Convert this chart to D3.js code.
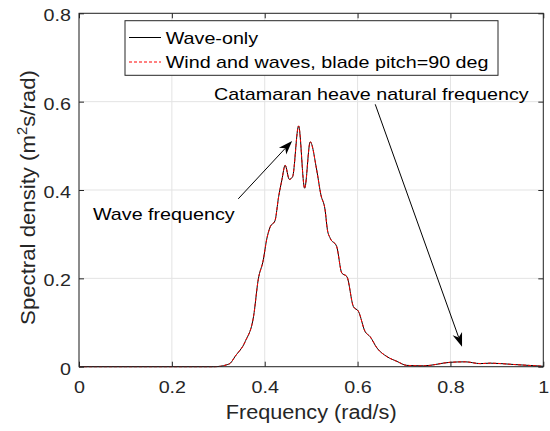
<!DOCTYPE html>
<html>
<head>
<meta charset="utf-8">
<script src="https://cdn.jsdelivr.net/npm/d3@7"></script>
<style>
    body { margin: 0; background: #fff; }
    svg { display: block; font-family: "Liberation Sans", Arial, sans-serif; }
</style>
</head>
<body>
<svg id="chart" width="550" height="431"></svg>
<script>
// Spectrum samples.
const freq = [0, 0.1, 0.2, 0.29, 0.305, 0.317, 0.326, 0.336, 0.358, 0.376,
    0.386, 0.397, 0.404, 0.412, 0.422, 0.430, 0.437, 0.444, 0.453, 0.460,
    0.473, 0.486, 0.498, 0.512, 0.521, 0.530, 0.535, 0.541, 0.555, 0.566,
    0.577, 0.591, 0.602, 0.616, 0.627, 0.642, 0.663, 0.685, 0.706, 0.742,
    0.80, 0.832, 0.864, 0.886, 0.936, 1.0];
const waveOnly = [0, 0, 0, 0, 0.001, 0.004, 0.008, 0.023, 0.057, 0.114,
    0.197, 0.242, 0.287, 0.317, 0.33, 0.385, 0.423, 0.456, 0.424, 0.43,
    0.545, 0.404, 0.509, 0.445, 0.389, 0.355, 0.31, 0.291, 0.272, 0.212,
    0.204, 0.136, 0.125, 0.08, 0.068, 0.042, 0.023, 0.012, 0.003, 0.002,
    0.010, 0.011, 0.007, 0.008, 0.005, 0.001];
const windWaves = [0, 0, 0, 0, 0.001, 0.004, 0.008, 0.023, 0.057, 0.114,
    0.197, 0.242, 0.287, 0.317, 0.33, 0.385, 0.423, 0.456, 0.424, 0.43,
    0.545, 0.404, 0.509, 0.445, 0.389, 0.355, 0.31, 0.291, 0.272, 0.212,
    0.204, 0.136, 0.125, 0.08, 0.068, 0.042, 0.023, 0.012, 0.003, 0.002,
    0.010, 0.011, 0.007, 0.008, 0.005, 0.001];

const xTicks = [0, 0.2, 0.4, 0.6, 0.8, 1];
const xTickLabels = ["0", "0.2", "0.4", "0.6", "0.8", "1"];
const yTicks = [0, 0.2, 0.4, 0.6, 0.8];
const yTickLabels = ["0", "0.2", "0.4", "0.6", "0.8"];
const legendLabels = ["Wave-only", "Wind and waves, blade pitch=90 deg"];

// Text annotations with arrows (data coordinates).
const notes = [
    { label: "Wave frequency", at: [0.030, 0.332], from: [0.343, 0.380], to: [0.459, 0.511] },
    { label: "Catamaran heave natural frequency", at: [0.291, 0.603], from: [0.638, 0.594], to: [0.825, 0.045] },
];

const svg = d3.select("#chart");
const margin = { top: 13.3, right: 6.7, bottom: 64.3, left: 79 };
const W = 550, H = 431;
const axisColor = "#262626";
const stretch = 1.16; // glyphs in the picture run wider than their height

const x = d3.scaleLinear().domain([0, 1]).range([margin.left, W - margin.right]);
const y = d3.scaleLinear().domain([0, 0.8]).range([H - margin.bottom, margin.top]);

// Grid lines.
const grid = svg.append("g").attr("stroke", "#e3e3e3").attr("stroke-width", 1);
grid.selectAll(".gx").data(xTicks).join("line")
    .attr("x1", (d) => x(d)).attr("x2", (d) => x(d))
    .attr("y1", y(0)).attr("y2", y(0.8));
grid.selectAll(".gy").data(yTicks).join("line")
    .attr("y1", (d) => y(d)).attr("y2", (d) => y(d))
    .attr("x1", x(0)).attr("x2", x(1));

// Curves.
const series = [
    { values: waveOnly, color: "#000", dash: null },
    { values: windWaves, color: "#ff0000", dash: "3,2" },
];
const line = d3.line()
    .x((d) => x(d[0]))
    .y((d) => y(d[1]))
    .curve(d3.curveMonotoneX);
series.forEach((s) => {
    svg.append("path")
        .datum(freq.map((f, i) => [f, s.values[i]]))
        .attr("fill", "none")
        .attr("stroke", s.color)
        .attr("stroke-width", 1)
        .attr("stroke-dasharray", s.dash)
        .attr("d", line);
});

// Axes: ticks point inwards on all four sides.
const fmtX = (d, i) => xTickLabels[i];
const fmtY = (d, i) => yTickLabels[i];
const gx = svg.append("g").attr("transform", `translate(0,${y(0)})`)
    .call(d3.axisBottom(x).tickValues(xTicks).tickFormat(fmtX).tickSize(-5).tickSizeOuter(0).tickPadding(14.2));
const gy = svg.append("g").attr("transform", `translate(${x(0)},0)`)
    .call(d3.axisLeft(y).tickValues(yTicks).tickFormat(fmtY).tickSize(-5).tickSizeOuter(0).tickPadding(8 / stretch));
svg.append("g").attr("transform", `translate(0,${y(0.8)})`)
    .call(d3.axisTop(x).tickValues(xTicks).tickFormat("").tickSize(-5).tickSizeOuter(0));
svg.append("g").attr("transform", `translate(${x(1)},0)`)
    .call(d3.axisRight(y).tickValues(yTicks).tickFormat("").tickSize(-5).tickSizeOuter(0));

svg.selectAll(".domain").remove();
svg.selectAll(".tick line").attr("stroke", axisColor);
svg.selectAll(".tick text")
    .attr("fill", axisColor)
    .attr("font-size", 17)
    .attr("font-family", null)
    .attr("transform", `scale(${stretch},1)`);
gy.selectAll(".tick text").attr("dy", "0.44em");

svg.append("rect")
    .attr("x", x(0)).attr("y", y(0.8))
    .attr("width", x(1) - x(0)).attr("height", y(0) - y(0.8))
    .attr("fill", "none").attr("stroke", axisColor).attr("stroke-width", 1);

// Axis labels.
const xl = svg.append("text")
    .attr("text-anchor", "middle")
    .attr("font-size", 21)
    .attr("fill", axisColor)
    .text("Frequency (rad/s)");
xl.attr("transform", `translate(${(x(0) + x(1)) / 2},419) scale(${171 / xl.node().getComputedTextLength()},1)`);

const yl = svg.append("text")
    .attr("text-anchor", "middle")
    .attr("font-size", 21)
    .attr("fill", axisColor);
yl.append("tspan").text("Spectral density (m");
yl.append("tspan").attr("font-size", 14).attr("dy", -8).text("2");
yl.append("tspan").attr("dy", 8).text("s/rad)");
yl.attr("transform", `translate(35,197.5) rotate(-90) scale(${255 / yl.node().getComputedTextLength()},1)`);

// Annotations.
function arrow(g, x1, y1, x2, y2) {
    const len = 14, half = 5, notch = 4;
    const a = Math.atan2(y2 - y1, x2 - x1);
    const ux = Math.cos(a), uy = Math.sin(a);
    const nx = -uy, ny = ux;
    const bx = x2 - len * ux, by = y2 - len * uy;
    g.append("line")
        .attr("x1", x1).attr("y1", y1)
        .attr("x2", x2 - (len - notch) * ux).attr("y2", y2 - (len - notch) * uy)
        .attr("stroke", "#000").attr("stroke-width", 1);
    g.append("path")
        .attr("d", `M${x2},${y2} L${bx + half * nx},${by + half * ny} L${x2 - (len - notch) * ux},${y2 - (len - notch) * uy} L${bx - half * nx},${by - half * ny} Z`)
        .attr("fill", "#000");
}

const ann = svg.append("g");
notes.forEach((n) => {
    ann.append("text")
        .attr("font-size", 17)
        .attr("fill", "#000")
        .attr("transform", `translate(${x(n.at[0])},${y(n.at[1])}) scale(${stretch},1)`)
        .text(n.label);
    arrow(ann, x(n.from[0]), y(n.from[1]), x(n.to[0]), y(n.to[1]));
});

// Legend.
const lg = svg.append("g");
lg.append("rect")
    .attr("x", 125).attr("y", 20.7)
    .attr("width", 373).attr("height", 54.6)
    .attr("fill", "#fff").attr("stroke", axisColor).attr("stroke-width", 1);
legendLabels.forEach((label, i) => {
    const rowY = 43.5 + i * 24.5;
    lg.append("line")
        .attr("x1", 129).attr("x2", 161)
        .attr("y1", rowY - 6).attr("y2", rowY - 6)
        .attr("stroke", series[i].color)
        .attr("stroke-width", 1)
        .attr("stroke-dasharray", series[i].dash);
    lg.append("text")
        .attr("font-size", 17)
        .attr("fill", "#000")
        .attr("transform", `translate(165.7,${rowY}) scale(${stretch},1)`)
        .text(label);
});
</script>
</body>
</html>
